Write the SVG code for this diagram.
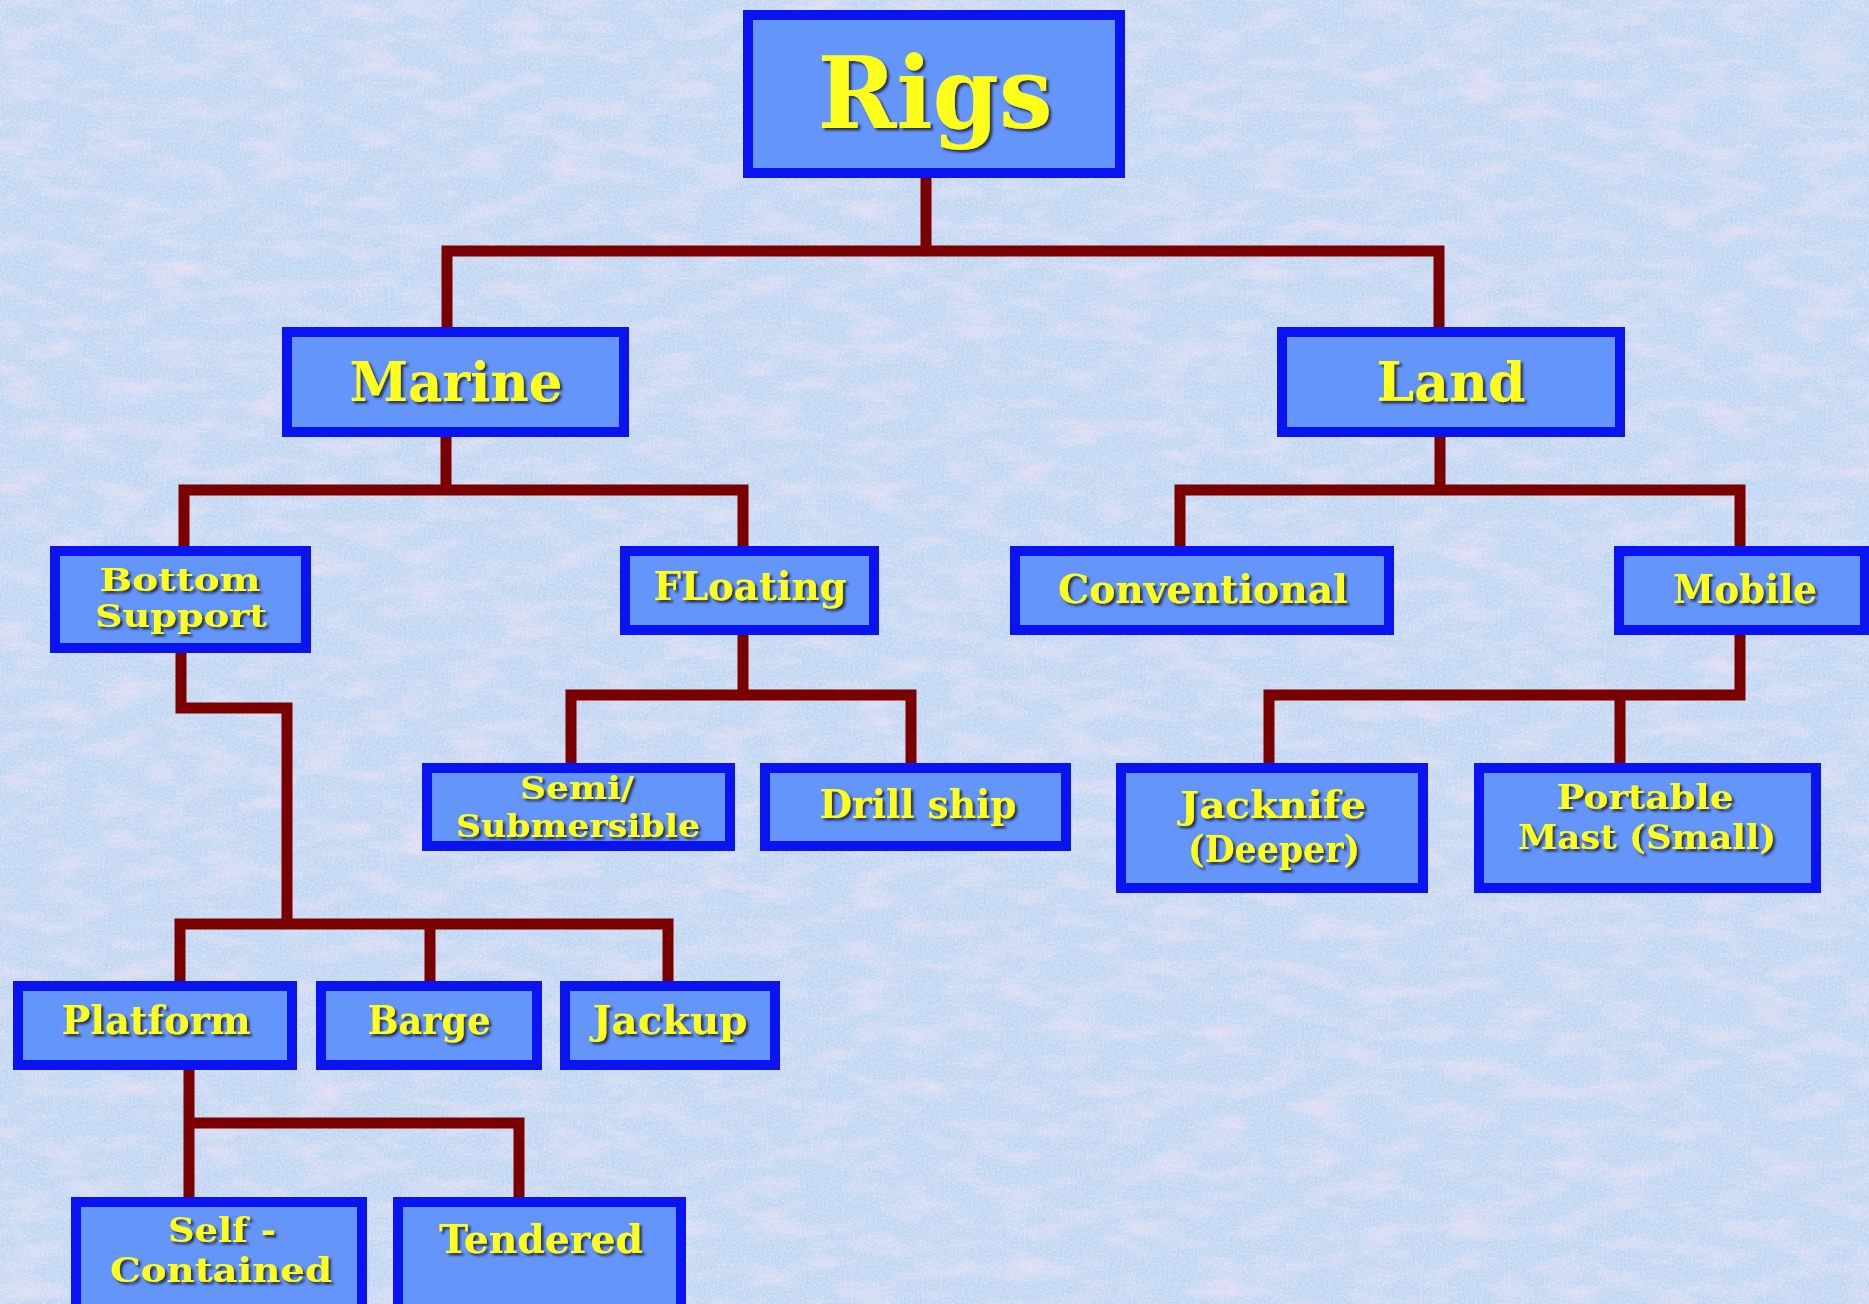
<svg xmlns="http://www.w3.org/2000/svg" width="1869" height="1304" viewBox="0 0 1869 1304">
<defs>
<filter id="pinkNoise" x="0" y="0" width="100%" height="100%">
<feTurbulence type="fractalNoise" baseFrequency="0.02 0.05" numOctaves="4" seed="7"/>
<feColorMatrix type="matrix" values="0 0 0 0 0.93  0 0 0 0 0.76  0 0 0 0 0.9  1.8 0 0 0 -0.8"/>
</filter>
<filter id="speckle" x="0" y="0" width="100%" height="100%">
<feTurbulence type="fractalNoise" baseFrequency="0.45" numOctaves="2" seed="3"/>
<feColorMatrix type="matrix" values="0 0 0 0 0.8  0 0 0 0 0.9  0 0 0 0 1  0 1.6 0 0 -0.6"/>
</filter>
<filter id="shadow" x="-10%" y="-20%" width="130%" height="150%">
<feDropShadow dx="2.5" dy="2.5" stdDeviation="1" flood-color="#1a1a33" flood-opacity="0.85"/>
</filter>
</defs>
<style>
.box{fill:#6495fa;stroke:#0a14f0;stroke-width:10}
.lbl{font-family:"DejaVu Serif","Liberation Serif",serif;font-weight:bold;fill:#ffff1e;text-anchor:middle;filter:url(#shadow)}
.conn{fill:none;stroke:#7a0000;stroke-width:11;stroke-linejoin:miter;stroke-linecap:square}
</style>
<rect width="1869" height="1304" fill="#c2d6f2"/>
<rect width="1869" height="1304" filter="url(#pinkNoise)" opacity="0.75"/>
<rect width="1869" height="1304" filter="url(#speckle)" opacity="0.7"/>

<g id="connectors">
<path class="conn" d="M447,325 V251 H1439 V325 M926,180 V251"/>
<path class="conn" d="M446,439 V490 M184,544 V490 H743 V544"/>
<path class="conn" d="M1440,439 V490 M1180,544 V490 H1740 V544"/>
<path class="conn" d="M743,637 V695 M571,761 V695 H911 V761"/>
<path class="conn" d="M1740,637 V695 H1269 V761 M1620,695 V761"/>
<path class="conn" d="M181,655 V708 H287 V924 M180,979 V924 H668 V979 M430,924 V979"/>
<path class="conn" d="M189,1072 V1195 M189,1123 H519 V1195"/>
</g>

<g id="rigs"><rect class="box" x="748" y="15" width="372" height="158"/><text class="lbl" x="935" y="128" font-size="100" textLength="235" lengthAdjust="spacingAndGlyphs">Rigs</text></g>
<g id="marine"><rect class="box" x="287" y="332" width="337" height="100"/><text class="lbl" x="456" y="401" font-size="54" textLength="213" lengthAdjust="spacingAndGlyphs">Marine</text></g>
<g id="land"><rect class="box" x="1282" y="332" width="338" height="100"/><text class="lbl" x="1451" y="401" font-size="54" textLength="149" lengthAdjust="spacingAndGlyphs">Land</text></g>
<g id="bottom-support"><rect class="box" x="55" y="551" width="251" height="97"/><text class="lbl" x="180" y="591" font-size="31" textLength="161" lengthAdjust="spacingAndGlyphs">Bottom</text><text class="lbl" x="181" y="627" font-size="31" textLength="172" lengthAdjust="spacingAndGlyphs">Support</text></g>
<g id="floating"><rect class="box" x="625" y="551" width="249" height="79"/><text class="lbl" x="750" y="600" font-size="40" textLength="193" lengthAdjust="spacingAndGlyphs">FLoating</text></g>
<g id="conventional"><rect class="box" x="1015" y="551" width="374" height="79"/><text class="lbl" x="1203" y="603" font-size="40" textLength="290" lengthAdjust="spacingAndGlyphs">Conventional</text></g>
<g id="mobile"><rect class="box" x="1619" y="551" width="246" height="79"/><text class="lbl" x="1745" y="603" font-size="40" textLength="144" lengthAdjust="spacingAndGlyphs">Mobile</text></g>
<g id="semi-submersible"><rect class="box" x="427" y="768" width="303" height="78"/><text class="lbl" x="577" y="799" font-size="32" textLength="114" lengthAdjust="spacingAndGlyphs">Semi/</text><text class="lbl" x="578" y="837" font-size="32" textLength="244" lengthAdjust="spacingAndGlyphs">Submersible</text></g>
<g id="drill-ship"><rect class="box" x="765" y="768" width="301" height="78"/><text class="lbl" x="918" y="818" font-size="40" textLength="197" lengthAdjust="spacingAndGlyphs">Drill ship</text></g>
<g id="jacknife"><rect class="box" x="1121" y="768" width="302" height="120"/><text class="lbl" x="1273" y="818" font-size="38" textLength="186" lengthAdjust="spacingAndGlyphs">Jacknife</text><text class="lbl" x="1274" y="862" font-size="38" textLength="172" lengthAdjust="spacingAndGlyphs">(Deeper)</text></g>
<g id="portable-mast"><rect class="box" x="1479" y="768" width="337" height="120"/><text class="lbl" x="1645" y="809" font-size="34" textLength="177" lengthAdjust="spacingAndGlyphs">Portable</text><text class="lbl" x="1647" y="849" font-size="34" textLength="258" lengthAdjust="spacingAndGlyphs">Mast (Small)</text></g>
<g id="platform"><rect class="box" x="18" y="986" width="274" height="79"/><text class="lbl" x="156" y="1034" font-size="40" textLength="189" lengthAdjust="spacingAndGlyphs">Platform</text></g>
<g id="barge"><rect class="box" x="321" y="986" width="216" height="79"/><text class="lbl" x="429" y="1034" font-size="40" textLength="123" lengthAdjust="spacingAndGlyphs">Barge</text></g>
<g id="jackup"><rect class="box" x="565" y="986" width="210" height="79"/><text class="lbl" x="670" y="1034" font-size="40" textLength="155" lengthAdjust="spacingAndGlyphs">Jackup</text></g>
<g id="self-contained"><rect class="box" x="76" y="1202" width="286" height="120"/><text class="lbl" x="222" y="1242" font-size="34" textLength="108" lengthAdjust="spacingAndGlyphs">Self -</text><text class="lbl" x="221" y="1282" font-size="34" textLength="222" lengthAdjust="spacingAndGlyphs">Contained</text></g>
<g id="tendered"><rect class="box" x="398" y="1202" width="283" height="120"/><text class="lbl" x="541" y="1253" font-size="40" textLength="204" lengthAdjust="spacingAndGlyphs">Tendered</text></g>
</svg>
